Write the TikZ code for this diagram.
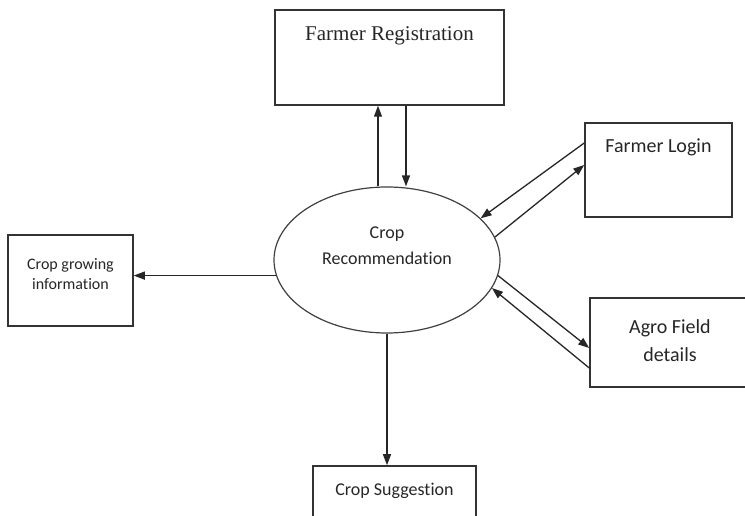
\documentclass[tikz,border=0pt]{standalone}
\usepackage{fontspec}
\setmainfont{Liberation Serif}
\newfontfamily\calibri[Ligatures=NoCommon]{Carlito}
\usetikzlibrary{arrows.meta}
\usetikzlibrary{calc}
\usetikzlibrary{shapes.geometric}

\begin{document}
\begin{tikzpicture}[x=1pt,y=1pt]

% Define styles
\tikzset{
    entity/.style={draw=black!80, line width=1.5pt, rectangle, inner sep=0pt},
    process/.style={draw=black!75, line width=1.2pt, ellipse, inner sep=0pt, minimum width=226, minimum height=146},
    flow/.style={draw=black!85, line width=1.3pt, -{Triangle[length=11pt,width=8pt]}},
    boxtext/.style={text=black!85, align=center}
}


% whole picture
\useasboundingbox (0,0) rectangle (745,516);


%position of the central process
\coordinate (C) at (387,256);

% Crop recommendation process
\node[process] (crop) at (C) {};
\node[boxtext, font=\calibri\fontsize{18}{26}\selectfont] (croptxt) at ($(crop.center)+(0,14)$) {Crop\\Recommendation};


% Farmer registration
\node[entity, minimum width=229, minimum height=95] (reg) at (389.5,458.5) {};
\node[boxtext, font=\fontsize{21}{25}\selectfont] (regtxt) at ($(reg.north)+(0,-27)$) {Farmer Registration};

% Farmer login
\node[entity, minimum width=147, minimum height=94] (login) at (658.5,346) {};
\node[boxtext, font=\calibri\fontsize{20}{24}\selectfont] (logintxt) at ($(login.north)+(0,-25.5)$) {Farmer Login};

% Agro field details
\node[entity, minimum width=160, minimum height=89] (agro) at (670,173.5) {};
\node[boxtext, font=\calibri\fontsize{20}{28}\selectfont] (agrotxt) at ($(agro.center)+(0,1.5)$) {Agro Field\\details};

% Crop growing information
\node[entity, minimum width=125, minimum height=91] (grow) at (70.5,235.5) {};
\node[boxtext, font=\calibri\fontsize{16}{20}\selectfont] (growtxt) at ($(grow.center)+(0,6)$) {Crop growing\\information};

% Crop suggestion
\node[entity, minimum width=163, minimum height=64] (sugg) at (394.5,18) {};
\node[boxtext, font=\calibri\fontsize{18}{22}\selectfont] (suggtxt) at ($(sugg.north)+(0,-26)$) {Crop Suggestion};


% Data flows
\draw[flow] ([xshift=-9pt]crop.north) -- ([xshift=-9pt]crop.north |- reg.south);
\draw[flow] ([xshift=19pt]crop.north |- reg.south) -- ([xshift=19pt]crop.north);

\draw[flow] ($(login.west)+(0,27)$) -- (crop.24);
\draw[flow] (crop.12) -- ($(login.west)+(0,5)$);

\draw[flow] (crop.-8) -- ($(agro.west)+(0,-5.5)$);
\draw[flow] ($(agro.west)+(0,-25.5)$) -- (crop.-15);

\draw[flow] (crop.188) -- (crop.188 -| grow.east);

\draw[flow] (crop.south) -- (crop.south |- sugg.north);

\end{tikzpicture}
\end{document}
